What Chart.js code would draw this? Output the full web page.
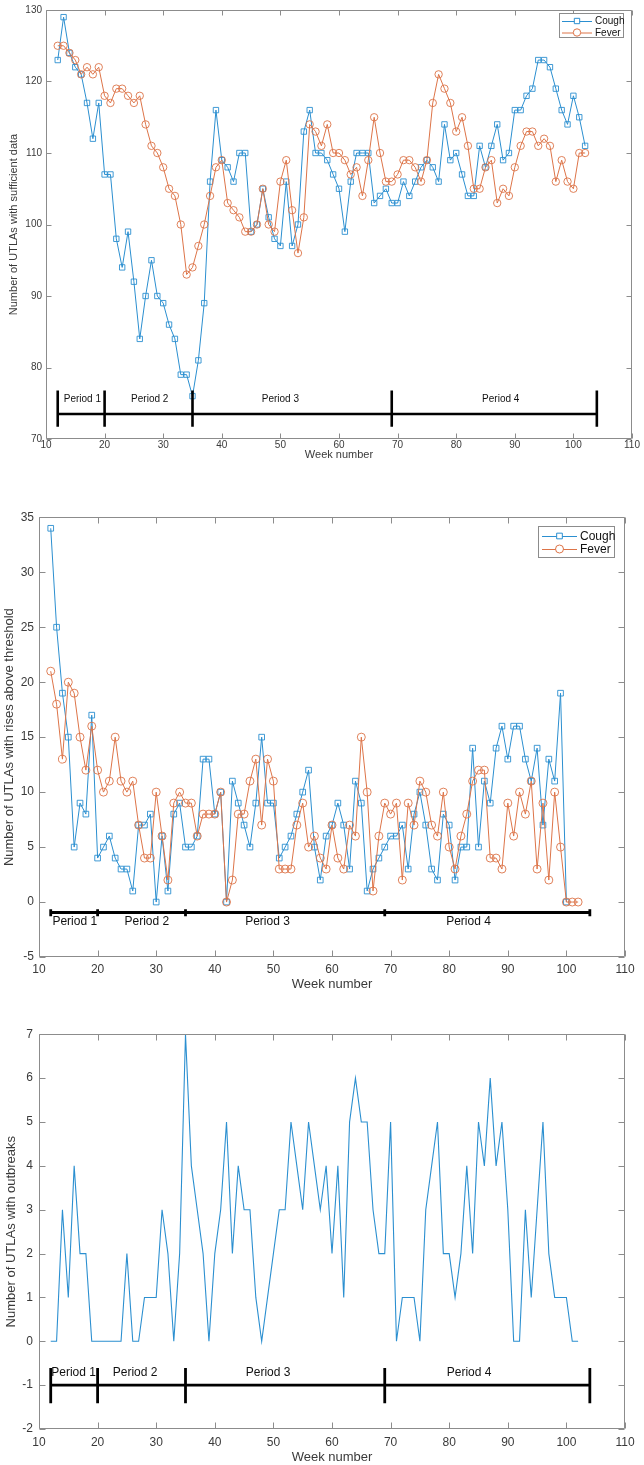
<!DOCTYPE html>
<html><head><meta charset="utf-8">
<script src="https://cdn.jsdelivr.net/npm/chart.js@4.4.1/dist/chart.umd.min.js"></script>
<style>
html,body{margin:0;padding:0;background:#fff;}
body{width:644px;height:1465px;position:relative;overflow:hidden;}
canvas{position:absolute;left:0;}
</style></head><body>
<canvas id="c1" width="644" height="470" style="top:0;width:644px;height:470px"></canvas>
<canvas id="c2" width="644" height="500" style="top:500px;width:644px;height:500px"></canvas>
<canvas id="c3" width="644" height="460" style="top:1005px;width:644px;height:460px"></canvas>
<script>
// ---------------- DATA ----------------
const weeks = [12,13,14,15,16,17,18,19,20,21,22,23,24,25,26,27,28,29,30,31,32,33,34,35,36,37,38,39,40,41,
  42,43,44,45,46,47,48,49,50,51,52,53,54,55,56,57,58,59,60,61,62,63,64,65,66,67,68,69,70,71,
  72,73,74,75,76,77,78,79,80,81,82,83,84,85,86,87,88,89,90,91,92,93,94,95,96,97,98,99,100,101,102];

const sufficientCough = [123,129,124,122,121,117,112,117,107,107,98,94,99,92,84,90,95,90,89,86,
  84,79,79,76,81,89,106,116,109,108,106,110,110,99,100,105,101,98,97,106,
  97,100,113,116,110,110,109,107,105,99,106,110,110,110,103,104,105,103,103,106,
  104,106,108,109,108,106,114,109,110,107,104,104,111,108,111,114,109,110,116,116,
  118,119,123,123,122,119,116,114,118,115,111];
const sufficientFever = [125,125,124,123,121,122,121,122,118,117,119,119,118,117,118,114,111,110,108,105,
  104,100,93,94,97,100,104,108,109,103,102,101,99,99,100,105,100,99,106,109,
  102,96,101,114,113,111,114,110,110,109,107,108,104,109,115,110,106,106,107,109,
  109,108,106,109,117,121,119,117,113,115,111,105,105,108,109,103,105,104,108,111,
  113,113,111,112,111,106,109,106,105,110,110];

const risesCough = [34,25,19,15,5,9,8,17,4,5,6,4,3,3,1,7,7,8,0,6,
  1,8,9,5,5,6,13,13,8,10,0,11,9,7,5,9,15,9,9,4,
  5,6,8,10,12,5,2,6,7,9,7,3,11,9,1,3,4,5,6,6,
  7,3,8,10,7,3,2,8,7,2,5,5,14,5,11,9,14,16,13,16,
  16,13,11,14,7,13,11,19,0,null,null];
const risesFever = [21,18,13,20,19,15,12,16,12,10,11,15,11,10,11,7,4,4,10,6,
  2,9,10,9,9,6,8,8,8,10,0,2,8,8,11,13,7,13,11,3,
  3,3,7,9,5,6,4,3,7,4,3,7,6,15,10,1,6,9,8,9,
  2,9,7,11,10,7,6,10,5,3,6,8,11,12,12,4,4,3,9,6,
  10,8,11,3,9,2,10,5,0,0,0];

const outbreaks = [0,0,3,1,4,2,2,0,0,0,0,0,0,2,0,0,1,1,1,3,
  2,0,2,7,4,3,2,0,2,3,5,2,4,3,3,1,0,1,2,3,
  3,5,4,3,5,4,3,4,2,4,1,5,6,5,5,3,2,2,5,0,
  1,1,1,0,3,4,5,2,2,1,2,4,2,5,4,6,4,5,3,0,
  0,3,1,3,5,2,1,1,1,0,0];

const periodBounds = [12, 20, 35, 69, 104];
const periodLabels = ['Period 1', 'Period 2', 'Period 3', 'Period 4'];
// label anchor weeks
const periodLabelWeeks1 = [16.2, 27.7, 50.0, 87.6];
const periodLabelWeeks2 = [16.1, 28.4, 49.0, 83.3];
const periodLabelWeeks3 = [15.9, 26.4, 49.1, 83.4];

const xTicks = [10, 20, 30, 40, 50, 60, 70, 80, 90, 100, 110];

// ---------------- STYLE ----------------
const FONT = "'Liberation Sans', Arial, Helvetica, sans-serif";
const BLUE = '#2b8fd0';
const ORANGE = '#dd7448';
const AXIS = '#8c8c8c';
const TXT = '#3a3a3a';

function pts(ys) { return weeks.map((w, i) => ({x: w, y: ys[i]})); }

function periodDatasets(yLine, yLo, yHi, width) {
  return [
    {label: '_pline', data: [{x: periodBounds[0], y: yLine}, {x: periodBounds[periodBounds.length-1], y: yLine}],
     borderColor: '#000', borderWidth: width, pointRadius: 0, fill: false, order: 0},
    {label: '_pticks', data: periodBounds.flatMap(b => [{x: b, y: yLo}, {x: b, y: yHi}, {x: b, y: null}]),
     borderColor: '#000', borderWidth: width, pointRadius: 0, fill: false, spanGaps: false, order: 0, borderCapStyle: 'butt'}
  ];
}

const matlabAxes = {
  id: 'matlabAxes',
  afterDraw(chart, args, o) {
    const {ctx, chartArea: a, scales: {x, y}} = chart;
    ctx.save();
    ctx.strokeStyle = AXIS; ctx.lineWidth = 1;
    const L = Math.round(a.left) + 0.5, R = Math.round(a.right) - 0.5, T = Math.round(a.top) + 0.5, B = Math.round(a.bottom) - 0.5;
    ctx.beginPath();
    ctx.rect(L, T, R - L, B - T);
    x.ticks.forEach(t => {
      const px = Math.round(x.getPixelForValue(t.value)) + 0.5;
      ctx.moveTo(px, B); ctx.lineTo(px, B - o.len);
      ctx.moveTo(px, T); ctx.lineTo(px, T + o.len);
    });
    y.ticks.forEach(t => {
      const py = Math.round(y.getPixelForValue(t.value)) + 0.5;
      ctx.moveTo(L, py); ctx.lineTo(L + o.len, py);
      ctx.moveTo(R, py); ctx.lineTo(R - o.len, py);
    });
    ctx.stroke();
    ctx.restore();
  }
};

const periodText = {
  id: 'periodText',
  afterDatasetsDraw(chart, args, o) {
    const {ctx, scales: {x, y}} = chart;
    ctx.save();
    ctx.fillStyle = '#111';
    ctx.font = o.size + 'px ' + FONT;
    ctx.textAlign = 'center'; ctx.textBaseline = 'middle';
    periodLabels.forEach((lab, i) => {
      ctx.fillText(lab, x.getPixelForValue(o.weeks[i]), y.getPixelForValue(o.y));
    });
    ctx.restore();
  }
};

const boxLegend = {
  id: 'boxLegend',
  afterDraw(chart, args, o) {
    if (!o.show) return;
    const {ctx} = chart;
    ctx.save();
    ctx.fillStyle = '#fff';
    ctx.fillRect(o.x, o.y, o.w, o.h);
    ctx.strokeStyle = '#8c8c8c'; ctx.lineWidth = 1;
    ctx.strokeRect(o.x + 0.5, o.y + 0.5, o.w - 1, o.h - 1);
    ctx.font = o.size + 'px ' + FONT;
    ctx.textAlign = 'left'; ctx.textBaseline = 'middle';
    const items = chart.data.datasets.filter(d => !d.label.startsWith('_'));
    items.forEach((d, i) => {
      const cy = o.y + o.rowY[i];
      ctx.strokeStyle = d.borderColor; ctx.lineWidth = 1;
      ctx.beginPath(); ctx.moveTo(o.lx0, cy + 0.5); ctx.lineTo(o.lx1, cy + 0.5); ctx.stroke();
      const mx = (o.lx0 + o.lx1) / 2;
      ctx.beginPath();
      if (d.pointStyle === 'rect') {
        const s = d.pointRadius * Math.SQRT1_2;
        ctx.rect(mx - s, cy - s, 2 * s, 2 * s);
      } else {
        ctx.arc(mx, cy, d.pointRadius, 0, Math.PI * 2);
      }
      ctx.fillStyle = '#fff'; ctx.fill(); ctx.stroke();
      ctx.fillStyle = '#111';
      ctx.fillText(d.label, o.tx, cy + 0.5);
    });
    ctx.restore();
  }
};

Chart.register(matlabAxes, periodText, boxLegend);

function makeChart(id, cfg) {
  const scaleFont = {family: FONT, size: cfg.tickSize};
  const titleFont = {family: FONT, size: cfg.titleSize};
  return new Chart(document.getElementById(id), {
    type: 'line',
    data: {datasets: cfg.datasets},
    options: {
      responsive: false, animation: false, devicePixelRatio: 1,
      layout: {padding: {left: 0, right: cfg.padRight, top: cfg.padTop, bottom: 0}},
      plugins: {
        legend: {display: false}, tooltip: {enabled: false},
        matlabAxes: {len: cfg.tickLen},
        periodText: {size: cfg.periodSize, weeks: cfg.periodWeeks, y: cfg.periodTextY},
        boxLegend: cfg.legend
      },
      elements: {line: {tension: 0}},
      scales: {
        x: {
          type: 'linear', min: 10, max: 110,
          afterFit(s) { s.height = cfg.xHeight; },
          afterBuildTicks(s) { s.ticks = xTicks.map(v => ({value: v})); },
          grid: {display: false, drawTicks: false}, border: {display: false},
          ticks: {padding: cfg.xTickPad, color: TXT, font: scaleFont, maxRotation: 0, autoSkip: false},
          title: {display: true, text: 'Week number', color: TXT, font: titleFont, padding: {top: 0, bottom: cfg.xTitlePad}}
        },
        y: {
          type: 'linear', min: cfg.yMin, max: cfg.yMax,
          afterFit(s) { s.width = cfg.yWidth; },
          grid: {display: false, drawTicks: false}, border: {display: false},
          ticks: {stepSize: cfg.yStep, padding: cfg.yTickPad, color: TXT, font: scaleFont, autoSkip: false},
          title: {display: true, text: cfg.yTitle, color: TXT, font: titleFont, padding: {top: cfg.yTitlePad, bottom: 0}}
        }
      }
    }
  });
}

// ---------------- PANEL 1 ----------------
makeChart('c1', {
  datasets: [
    {label: 'Cough', data: pts(sufficientCough), borderColor: BLUE, borderWidth: 1, pointStyle: 'rect', pointRadius: 3.8,
     pointBorderWidth: 0.9, pointBackgroundColor: 'rgba(0,0,0,0)', pointBorderColor: BLUE, order: 2},
    {label: 'Fever', data: pts(sufficientFever), borderColor: ORANGE, borderWidth: 1, pointStyle: 'circle', pointRadius: 3.7,
     pointBorderWidth: 0.9, pointBackgroundColor: 'rgba(0,0,0,0)', pointBorderColor: ORANGE, order: 1},
    ...periodDatasets(73.5, 71.7, 76.8, 2.6)
  ],
  padRight: 12, padTop: 5, xHeight: 31, yWidth: 46,
  yMin: 70, yMax: 130, yStep: 10,
  tickSize: 10, titleSize: 11, periodSize: 10, tickLen: 5,
  xTickPad: 0, xTitlePad: 8, yTickPad: 4, yTitlePad: 7,
  yTitle: 'Number of UTLAs with sufficient data',
  periodWeeks: periodLabelWeeks1, periodTextY: 75.5,
  legend: {show: true, x: 559, y: 13, w: 65, h: 25, rowY: [8, 19.5], lx0: 562, lx1: 592, tx: 595, size: 10}
});

// ---------------- PANEL 2 ----------------
makeChart('c2', {
  datasets: [
    {label: 'Cough', data: pts(risesCough), borderColor: BLUE, borderWidth: 1, pointStyle: 'rect', pointRadius: 4,
     pointBorderWidth: 0.9, pointBackgroundColor: 'rgba(0,0,0,0)', pointBorderColor: BLUE, order: 2},
    {label: 'Fever', data: pts(risesFever), borderColor: ORANGE, borderWidth: 1, pointStyle: 'circle', pointRadius: 4,
     pointBorderWidth: 0.9, pointBackgroundColor: 'rgba(0,0,0,0)', pointBorderColor: ORANGE, order: 1},
    ...periodDatasets(-0.95, -0.65, -1.3, 2.8)
  ],
  padRight: 19, padTop: 17.3, xHeight: 43, yWidth: 39,
  yMin: -5, yMax: 35, yStep: 5,
  tickSize: 12, titleSize: 13, periodSize: 12, tickLen: 6,
  xTickPad: 5, xTitlePad: 8, yTickPad: 5, yTitlePad: 2,
  yTitle: 'Number of UTLAs with rises above threshold',
  periodWeeks: periodLabelWeeks2, periodTextY: -1.76,
  legend: {show: true, x: 538, y: 26, w: 77, h: 32, rowY: [10, 23], lx0: 542, lx1: 577, tx: 580, size: 12}
});

// ---------------- PANEL 3 ----------------
makeChart('c3', {
  datasets: [
    {label: 'Outbreaks', data: pts(outbreaks), borderColor: BLUE, borderWidth: 1.1, pointRadius: 0, order: 1},
    ...periodDatasets(-1.0, -0.61, -1.41, 2.8)
  ],
  padRight: 19, padTop: 29.3, xHeight: 36, yWidth: 39,
  yMin: -2, yMax: 7, yStep: 1,
  tickSize: 12, titleSize: 13, periodSize: 12, tickLen: 6,
  xTickPad: 6, xTitlePad: 0, yTickPad: 6, yTitlePad: 3.5,
  yTitle: 'Number of UTLAs with outbreaks',
  periodWeeks: periodLabelWeeks3, periodTextY: -0.72,
  legend: {show: false}
});
</script>
</body></html>
